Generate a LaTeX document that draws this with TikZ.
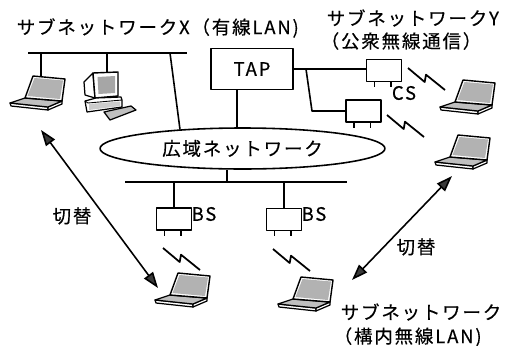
\documentclass[tikz,border=0pt]{standalone}
\usepackage{fontspec}
\setmainfont{Noto Sans CJK JP}[LetterSpace=10,FakeBold=0.4]
\usetikzlibrary{arrows.meta,calc,shapes.geometric}

\tikzset{
  % notebook computer, origin at the left corner of its base
  laptop/.pic={
    \draw[fill=white,line width=0.7pt] (0,0) -- (38,4) -- (38,7) -- (1,3) -- cycle;
    \draw[fill=white,line width=0.7pt] (38,4) -- (52,-2) -- (52,1) -- (38,7) -- cycle;
    \draw[fill=gray!50,line width=0.7pt] (0,0) -- (15,-5) -- (52,-2) -- (38,4) -- cycle;
    \draw[fill=white,line width=0.8pt] (15,-5) -- (23,-27) -- (55,-24) -- (52,-2) -- cycle;
    \fill[gray!60] (17.5,-7) -- (24.5,-25) -- (53,-22.5) -- (50,-4) -- cycle;
  },
  % wireless link symbol
  radio/.pic={
    \draw[line width=1pt] (0,0) -- (16.7,14) -- (18,6.7) -- (37,22);
  },
  unit/.style={draw,rectangle,minimum width=0.7cm,minimum height=0.44cm},
  txt/.style={anchor=west},
  handover/.style={<->,line width=0.9pt,
    >={Triangle[length=0.32cm,width=0.22cm,fill=gray!45!black]}},
}

\begin{document}
\begin{tikzpicture}[x=0.02cm,y=-0.02cm,line width=0.9pt,line join=round,
  every node/.style={font=\fontsize{10.5}{12}\selectfont,inner sep=0pt}]
\useasboundingbox (0,0) rectangle (507,345);

% ---------- nodes ----------
\node[draw,rectangle,minimum width=1.64cm,minimum height=0.82cm] (tap) at (252,69) {TAP};
\node[draw,ellipse,minimum width=5.7cm,minimum height=0.82cm] (wan) at (242.5,148.5) {広域ネットワーク};
\node[unit] (cs1) at (384,70.5) {};
\node[unit] (cs2) at (363.5,111) {};
\node[unit] (bs1) at (174,219) {};
\node[unit] (bs2) at (284,219.5) {};
\foreach \b in {cs1,cs2,bs1,bs2}{
  \draw ($(\b.south)+(-9.5,0)$) -- ++(0,5);
  \draw ($(\b.south)+(7,0)$) -- ++(0,5);
}

\node (cslab) at (404,93) {CS};
\node (bslab1) at (204,214) {BS};
\node (bslab2) at (314,214) {BS};

% ---------- texts ----------
\node[txt] (subx) at (16,28) {サブネットワークX（有線LAN)};
\node[txt] (suby1) at (326,18) {サブネットワークY};
\node[txt] (suby2) at (320,41) {（公衆無線通信）};
\node[txt] (subz1) at (340,312) {サブネットワーク};
\node[txt] (subz2) at (333,337) {（構内無線LAN)};
\node (sw1) at (72,216) {切替};
\node (sw2) at (416,247) {切替};

% ---------- terminals ----------
\pic at (10,103) {laptop};
\pic at (440,107) {laptop};
\pic at (435,162) {laptop};
\pic at (155,300) {laptop};
\pic at (278,304) {laptop};

% desktop computer
\draw[fill=white,line width=0.7pt] (93,73) -- (84,82) -- (85,95) -- (95,98) -- cycle;
\draw[fill=white,line width=0.8pt] (93,73) -- (118,72) -- (118,96) -- (95,98) -- cycle;
\fill[gray!70] (97.5,77) -- (115,76) -- (115,93) -- (98.5,94) -- cycle;
\draw[fill=white,line width=0.7pt] (85,101) -- (96,98) -- (121,97) -- (122,100) -- (122,107) -- (87,112) -- cycle;
\draw[line width=0.5pt] (85,101) -- (88,103) -- (122,100);
\fill[gray!40] (89,104) -- (120,101.5) -- (120,106) -- (89,110) -- cycle;
\draw[fill=gray!50,line width=0.7pt] (104,112) -- (131,106) -- (136,110) -- (110,120) -- cycle;

% ---------- attachment points ----------
\coordinate (busxl) at (28,53);
\coordinate (busxr) at (187,53);
\coordinate (tapx1) at (41,53);
\coordinate (tapx2) at (107,53);
\coordinate (tapx3) at (170,53);
\coordinate (lapa) at (41,76);
\coordinate (pc) at (107,73);
\coordinate (wanx) at (180,129.5);
\coordinate (tapdrop) at (237,89);
\coordinate (fork) at (306,69);
\coordinate (bend) at (312,111);
\coordinate (busll) at (125,182);
\coordinate (buslr) at (347,182);
\coordinate (wandrop) at (227,182);

% ---------- wired links ----------
\draw (busxl) -- (busxr);
\draw (tapx1) -- (lapa);
\draw (tapx2) -- (pc);
\draw (tapx3) -- (wanx);
\draw (tapdrop) -- (tapdrop |- wan.north);
\draw (tap.east) -- (tap.east -| cs1.west);
\draw (fork) -- (bend) -- (cs2.west);
\draw (busll) -- (buslr);
\draw (wandrop |- wan.south) -- (wandrop);
\draw (bs1.north) -- (bs1.north |- busll);
\draw (bs2.north) -- (bs2.north |- busll);

% ---------- radio links ----------
\pic at (408,68) {radio};
\pic at (387,115) {radio};
\pic at (163,248) {radio};
\pic at (273,249) {radio};

% ---------- handover ----------
\coordinate (ha1) at (41,130);
\coordinate (ha2) at (158,288);
\coordinate (hb1) at (452,176);
\coordinate (hb2) at (352,280);
\draw[handover] (ha1) -- (ha2);
\draw[handover] (hb1) -- (hb2);
\end{tikzpicture}
\end{document}
